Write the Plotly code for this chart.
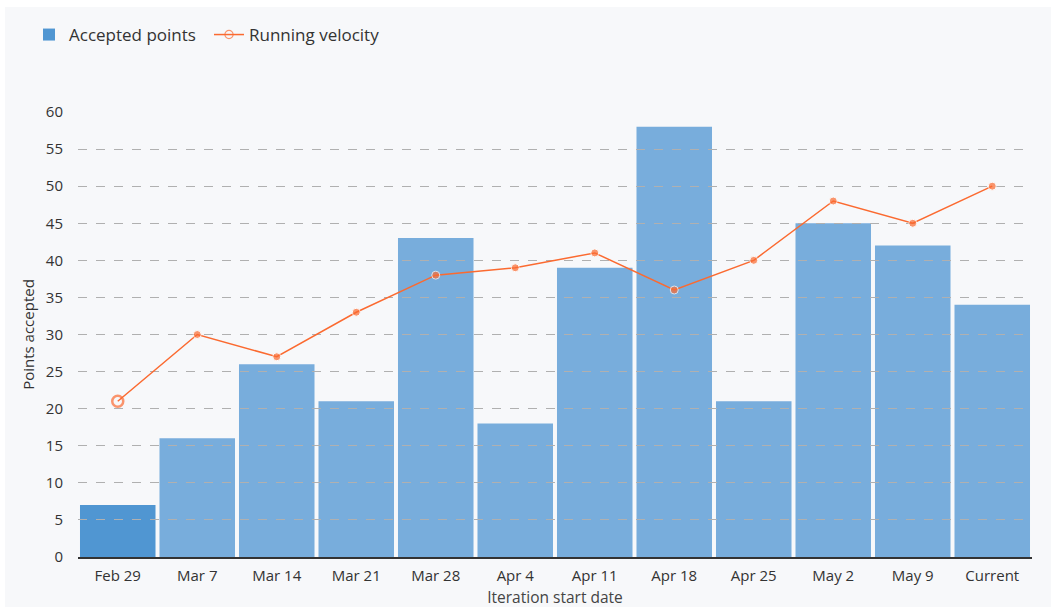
import plotly.graph_objects as go

categories = ["Feb 29", "Mar 7", "Mar 14", "Mar 21", "Mar 28", "Apr 4", "Apr 11",
              "Apr 18", "Apr 25", "May 2", "May 9", "Current"]
accepted_points = [7, 16, 26, 21, 43, 18, 39, 58, 21, 45, 42, 34]
running_velocity = [21, 30, 27, 33, 38, 39, 41, 36, 40, 48, 45, 50]

bar_colors = ["#5096d2"] + ["#78addc"] * (len(categories) - 1)
orange = "#fb6a30"

sym = ["circle-open"] + ["circle"] * (len(categories) - 1)
msize = [11] + [8] * (len(categories) - 1)
mline_w = [2.5] + [1] * (len(categories) - 1)
mline_c = [orange] + ["#ffffff"] * (len(categories) - 1)

fig = go.Figure()
fig.add_trace(go.Bar(
    x=categories, y=accepted_points, name="Accepted points",
    marker=dict(color=bar_colors, line=dict(width=0)),
    xaxis="x", yaxis="y",
))
fig.add_trace(go.Scatter(
    x=categories, y=running_velocity, name="Running velocity",
    mode="lines+markers",
    line=dict(color=orange, width=1.5),
    marker=dict(symbol=sym, size=msize, color=orange,
                line=dict(width=mline_w, color=mline_c)),
    xaxis="x2", yaxis="y2",
))

W, H = 1056, 612
l, r, t, b = 78, 24, 112, 55
pw, ph = W - l - r, H - t - b
xr = [-0.5, len(categories) - 0.5]

fig.update_layout(
    width=W, height=H,
    margin=dict(l=l, r=r, t=t, b=b, autoexpand=False),
    paper_bgcolor="#ffffff",
    plot_bgcolor="rgba(0,0,0,0)",
    font=dict(family="Open Sans, sans-serif", size=15, color="#333333"),
    bargap=0.05,
    showlegend=True,
    legend=dict(orientation="h", x=(29 - l) / pw, xanchor="left",
                y=(H - b - 35) / ph, yanchor="middle",
                font=dict(size=17, color="#333333"),
                bgcolor="rgba(0,0,0,0)", entrywidth=135),
    shapes=[dict(type="rect", xref="paper", yref="paper", layer="below",
                 x0=(5 - l) / pw, x1=(1051 - l) / pw,
                 y0=(H - b - 607) / ph, y1=(H - b - 7) / ph,
                 fillcolor="#f7f8fa", line=dict(width=0))],
    xaxis=dict(
        title=dict(text="Iteration start date", font=dict(size=15.5, color="#444444"), standoff=8),
        range=xr, showline=True, linecolor="#333333", linewidth=1.5,
        ticks="", tickfont=dict(size=15, color="#333333"), ticklabelstandoff=4,
        showgrid=False, automargin=False,
    ),
    yaxis=dict(
        title=dict(text="Points accepted", font=dict(size=15, color="#333333"), standoff=7),
        range=[0, 60], dtick=5, tick0=0, showgrid=False,
        zeroline=False, showline=False, ticks="",
        tickfont=dict(size=15, color="#333333"), ticklabelstandoff=14,
        automargin=False,
    ),
    xaxis2=dict(range=xr, visible=False, showgrid=False, anchor="y2",
                domain=[0, 1], automargin=False),
    yaxis2=dict(range=[0, 60], dtick=5, tick0=0, anchor="x2", domain=[0, 1],
                showgrid=True, gridcolor="#b0b0b0", griddash="dash", gridwidth=1,
                zeroline=False, showline=False, showticklabels=False, ticks="",
                automargin=False),
)

fig.write_html(
    "out.html",
    config={"displayModeBar": False},
    post_script="document.body.style.margin='0';document.body.style.overflow='hidden';",
)
